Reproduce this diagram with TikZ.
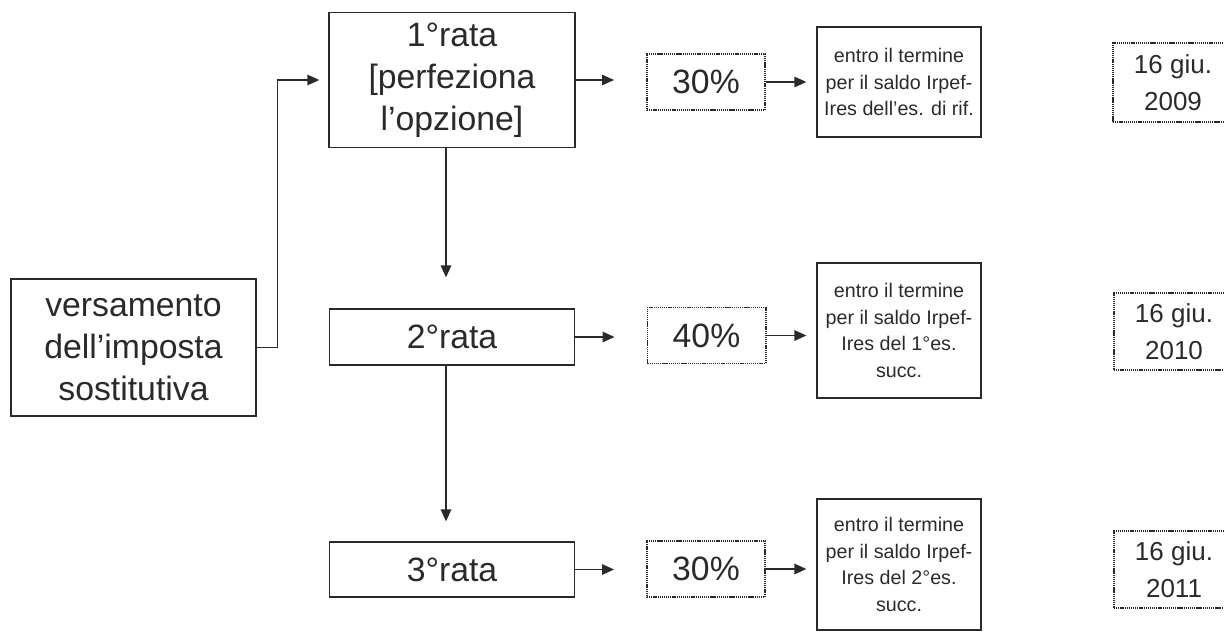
\documentclass[tikz,border=0pt]{standalone}
\usepackage{fontspec}
\setmainfont{Liberation Sans}
\usetikzlibrary{arrows.meta}
\definecolor{ink}{HTML}{2A2A2A}
\tikzset{
  box/.style={draw=ink, line width=0.9pt, text=ink, align=center, inner sep=0pt},
  dotbox/.style={box, dash pattern=on 0.9pt off 0.6pt, line width=1.4pt},
  big/.style={font=\fontsize{24}{30}\selectfont},
  small/.style={font=\fontsize{14}{19}\selectfont},
  date/.style={font=\fontsize{18.5}{26}\selectfont},
  arr/.style={draw=ink, line width=0.9pt, -{Triangle[length=8.5pt,width=7.5pt]}},
}
\begin{document}
\begin{tikzpicture}[x=0.025cm,y=-0.025cm]
        \useasboundingbox (0,0) rectangle (1224,632);
        %% left box
        \node[box,big,minimum width=6.125cm,minimum height=3.425cm] (vers) at (133.5,347.5) {versamento\\dell’imposta\\sostitutiva};
        %% rate
        \node[box,big,minimum width=6.15cm,minimum height=3.375cm] (rata1) at (452,80) {1°rata\\{[}perfeziona\\l’opzione{]}};
        \node[box,big,minimum width=6.125cm,minimum height=1.4cm] (rata2) at (452,337) {2°rata};
        \node[box,big,minimum width=6.125cm,minimum height=1.375cm] (rata3) at (452,569.5) {3°rata};
        %% percentuali
        \node[dotbox,big,minimum width=2.95cm,minimum height=1.4cm] (perc1) at (706,82) {30\%};
        \node[dotbox,big,minimum width=2.95cm,minimum height=1.4cm] (perc2) at (706.5,335.5) {40\%};
        \node[dotbox,big,minimum width=2.95cm,minimum height=1.4cm] (perc3) at (706,569) {30\%};
        %% termini
        \node[box,small,minimum width=4.1cm,minimum height=2.75cm] (term1) at (899,82) {entro il termine\\per il saldo Irpef-\\Ires dell’es. di rif.};
        \node[box,small,minimum width=4.1cm,minimum height=3.375cm] (term2) at (899,330.5) {entro il termine\\per il saldo Irpef-\\Ires del 1°es.\\succ.};
        \node[box,small,minimum width=4.1cm,minimum height=3.275cm] (term3) at (899,564.5) {entro il termine\\per il saldo Irpef-\\Ires del 2°es.\\succ.};
        %% scadenze
        \node[dotbox,date,minimum width=3cm,minimum height=1.975cm] (data1) at (1173,82.5) {16 giu.\\2009};
        \node[dotbox,date,minimum width=3cm,minimum height=1.925cm] (data2) at (1174,331.5) {16 giu.\\2010};
        \node[dotbox,date,minimum width=3cm,minimum height=1.925cm] (data3) at (1174,569.5) {16 giu.\\2011};
        %% connectors
        \draw[arr,shorten >=0.225cm] (vers.east) -- ++(21,0) |- (rata1.west);
        \draw[arr,shorten >=0.775cm] ([xshift=-0.15cm]rata1.south) -- ([xshift=-0.15cm]rata2.north);
        \draw[arr,shorten >=0.5cm] ([xshift=-0.15cm]rata2.south) -- ([xshift=-0.15cm]rata3.north);
        \foreach \i in {1,2,3} {
            \draw[arr,shorten >=0.8cm] (rata\i.east) -- (rata\i.east -| perc\i.west);
            \draw[arr,shorten >=0.25cm] (perc\i.east) -- (perc\i.east -| term\i.west);
        }
    \end{tikzpicture}
\end{document}
